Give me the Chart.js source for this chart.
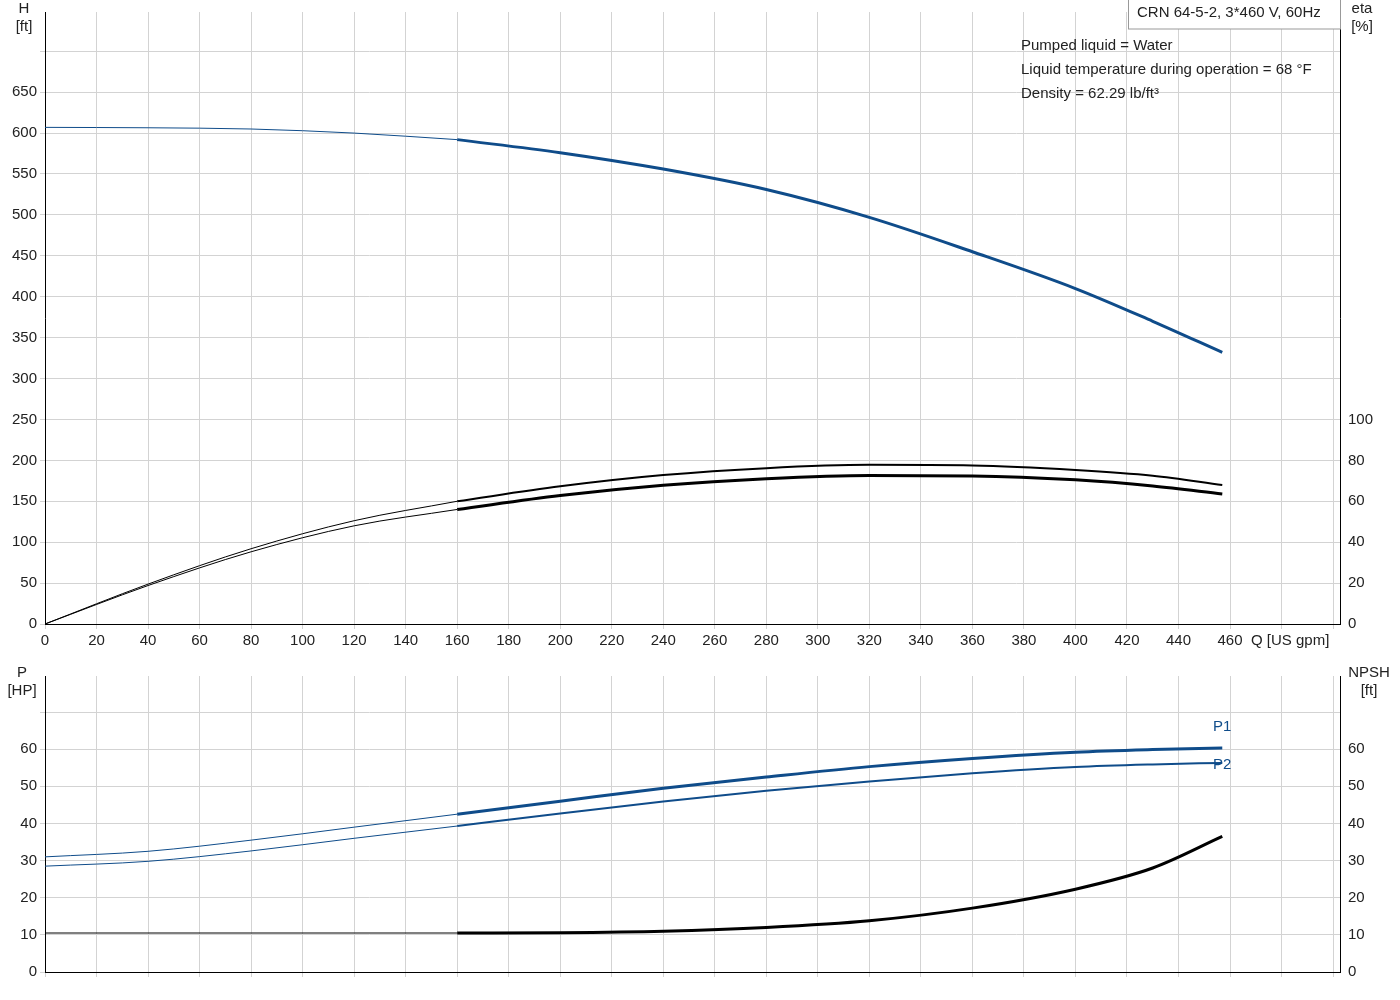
<!DOCTYPE html>
<html><head><meta charset="utf-8">
<script src="https://cdn.jsdelivr.net/npm/chart.js@4.4.0/dist/chart.umd.min.js"></script>
<style>body{margin:0;background:#fff;font-family:Arial,"Liberation Sans",sans-serif}
#c1{position:absolute;left:0;top:0}#c2{position:absolute;left:0;top:664px}</style>
</head><body>
<canvas id="c1" width="1400" height="660"></canvas>
<canvas id="c2" width="1400" height="336"></canvas>
<script>
const qThin=[0,40,80,120,160];
const qThick=[160,200,240,280,320,360,400,430,457];
const hThin=[607,606.5,605,600,592];
const hThick=[592,576,556,531,497,455,410,370,332];
const eta1Thin=[0,19.5,36.8,50.5,60];
const eta1Thick=[60,67.3,72.8,76.2,77.8,77.5,75.3,72.5,68];
const eta2Thin=[0,18.8,35.3,48,56];
const eta2Thick=[56,62.8,67.8,71,72.6,72.4,70.5,67.5,63.6];
const p1Thin=[31,32.5,35.5,39,42.5];
const p1Thick=[42.5,46,49.5,52.5,55.3,57.5,59.2,59.9,60.3];
const p2Thin=[28.5,29.8,32.6,36,39.3];
const p2Thick=[39.3,42.7,45.9,48.8,51.3,53.5,55.2,55.9,56.3];
const npshThin=[10.5,10.5,10.5,10.5,10.5];
const npshThick=[10.5,10.6,11,12,13.8,17.2,22.3,28,36.5];
const xTicks=[0,20,40,60,80,100,120,140,160,180,200,220,240,260,280,300,320,340,360,380,400,420,440,460];
const hTicks=[0,50,100,150,200,250,300,350,400,450,500,550,600,650];
const etaTicks=[0,20,40,60,80,100];
const pTicks=[0,10,20,30,40,50,60];
const BLUE='#0f4c8a';
const pts=(xs,ys)=>xs.map((x,i)=>({x,y:ys[i]}));
const ds=(xs,ys,col,w,axis)=>({data:pts(xs,ys),borderColor:col,borderWidth:w,pointRadius:0,fill:false,cubicInterpolationMode:'monotone',yAxisID:axis});
const font={family:'Arial, "Liberation Sans", sans-serif',size:15};
const grid={color:'#d3d3d3',lineWidth:1,drawTicks:true,tickLength:5};
function fixW(w){return s=>{s.width=w;};}
const setTicks=(arr,labels)=>s=>{s.ticks=arr.map(v=>({value:v}));};
const lbl=(arr)=>v=>arr.includes(v)?String(v):'';
const xMax=502.7;
const xGrid=[...xTicks,480,500];
new Chart(document.getElementById('c1'),{type:'line',
data:{datasets:[ds(qThin,hThin,BLUE,1,'y'),ds(qThick,hThick,BLUE,3,'y'),
ds(qThin,eta1Thin,'#000',1,'y2'),ds(qThick,eta1Thick,'#000',2,'y2'),
ds(qThin,eta2Thin,'#000',1,'y2'),ds(qThick,eta2Thick,'#000',3,'y2')]},
options:{responsive:false,animation:false,events:[],layout:{padding:0},
plugins:{legend:{display:false},tooltip:{enabled:false}},
scales:{x:{type:'linear',min:0,max:xMax,afterFit:s=>{s.height=36;},grid:grid,border:{color:'#000'},
 afterBuildTicks:setTicks(xGrid),ticks:{font,color:'#222',maxRotation:0,autoSkip:false,callback:lbl(xTicks)}},
y:{min:0,max:748,afterFit:fixW(45),grid:grid,border:{color:'#000'},afterBuildTicks:setTicks([...hTicks,700]),ticks:{font,color:'#222',autoSkip:false,callback:lbl(hTicks)}},
y2:{position:'right',min:0,max:299.2,afterFit:fixW(60),grid:{display:false,tickLength:5},border:{color:'#000'},afterBuildTicks:setTicks(etaTicks),ticks:{font,color:'#222',autoSkip:false,callback:lbl(etaTicks)}}}},
plugins:[{id:'t1',afterDraw(c){const x=c.ctx;x.save();x.fillStyle='#222';x.font='15px Arial, "Liberation Sans", sans-serif';x.textAlign='center';
x.fillText('H',24,13);x.fillText('[ft]',24,31);x.fillText('eta',1362,13);x.fillText('[%]',1362,31);
x.textAlign='left';x.fillText('Q [US gpm]',1251,645);
x.fillText('Pumped liquid = Water',1021,50);x.fillText('Liquid temperature during operation = 68 °F',1021,74);x.fillText('Density = 62.29 lb/ft³',1021,98);
x.fillStyle='#fff';x.fillRect(1128,0,212,29);x.strokeStyle='#999';x.strokeRect(1128.5,-1,212,30);x.fillStyle='#222';x.fillText('CRN 64-5-2, 3*460 V, 60Hz',1137,17);x.restore();}}]});
new Chart(document.getElementById('c2'),{type:'line',
data:{datasets:[ds(qThin,p1Thin,BLUE,1,'y'),ds(qThick,p1Thick,BLUE,3,'y'),
ds(qThin,p2Thin,BLUE,1,'y'),ds(qThick,p2Thick,BLUE,2,'y'),
ds(qThin,npshThin,'#000',1,'y2'),ds(qThick,npshThick,'#000',3,'y2')]},
options:{responsive:false,animation:false,events:[],layout:{padding:{top:1,bottom:0}},
plugins:{legend:{display:false},tooltip:{enabled:false}},
scales:{x:{type:'linear',min:0,max:xMax,afterFit:s=>{s.height=28;},grid:grid,border:{color:'#000'},
 afterBuildTicks:setTicks(xGrid),ticks:{display:false}},
y:{min:0,max:79.7,afterFit:fixW(45),grid:grid,border:{color:'#000'},afterBuildTicks:setTicks([...pTicks,70]),ticks:{font,color:'#222',autoSkip:false,callback:lbl(pTicks)}},
y2:{position:'right',min:0,max:79.7,afterFit:fixW(60),grid:{display:false,tickLength:5},border:{color:'#000'},afterBuildTicks:setTicks([...pTicks,70]),ticks:{font,color:'#222',autoSkip:false,callback:lbl(pTicks)}}}},
plugins:[{id:'t2',afterDraw(c){const x=c.ctx;x.save();x.font='15px Arial, "Liberation Sans", sans-serif';x.fillStyle='#222';x.textAlign='center';
x.fillText('P',22,13);x.fillText('[HP]',22,31);x.fillText('NPSH',1369,13);x.fillText('[ft]',1369,31);
x.fillStyle=BLUE;x.textAlign='left';x.fillText('P1',1213,67);x.fillText('P2',1213,105);x.restore();}}]});
</script></body></html>
